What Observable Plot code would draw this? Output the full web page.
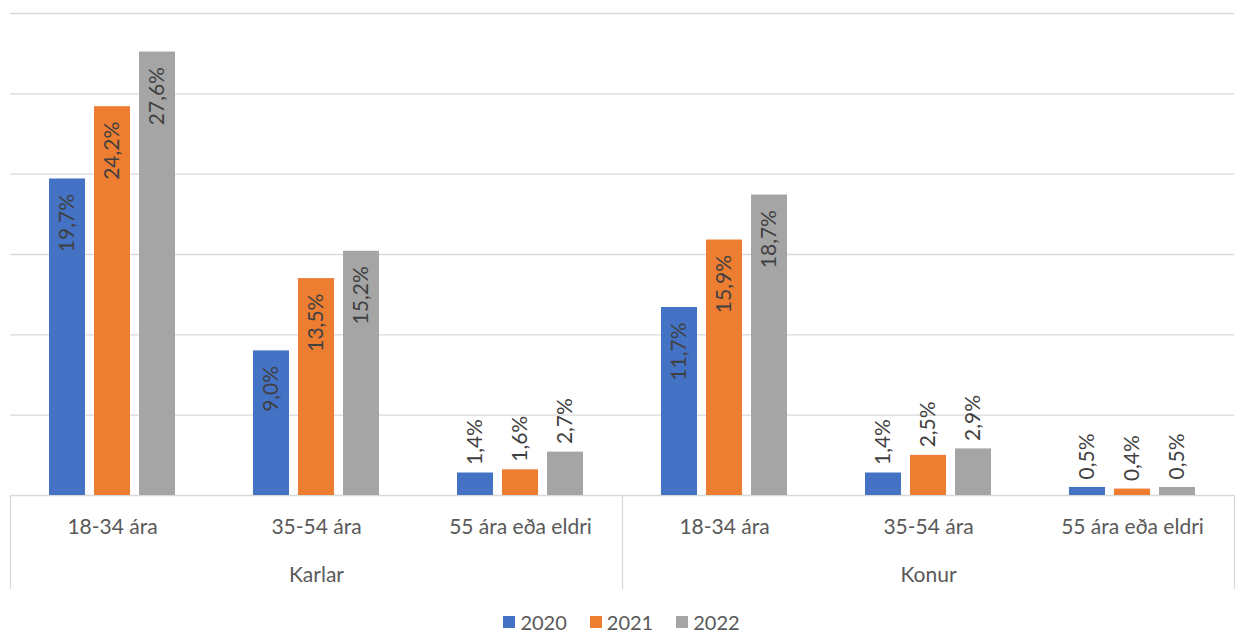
<!DOCTYPE html>
<html>
<head>
<meta charset="utf-8">
<script src="https://cdn.jsdelivr.net/npm/d3@7"></script>
<script src="https://cdn.jsdelivr.net/npm/@observablehq/plot@0.6"></script>
<style>
  html, body { margin: 0; padding: 0; background: #fff; }
  #chart { width: 1243px; }
  .legend { display: flex; justify-content: center; align-items: center; gap: 23px;
    font-family: Lato, sans-serif; font-size: 20px; line-height: 22px; color: #595959;
    height: 22px; padding-top: 11px; }
  .legend .item { display: flex; align-items: center; gap: 5px; }
  .legend .sw { width: 12px; height: 12px; display: inline-block; }
</style>
</head>
<body>
<div id="chart"></div>
<script>
// ---- data ----
const groups = ["Karlar", "Konur"];
const ages = ["18-34 ára", "35-54 ára", "55 ára eða eldri"];
const years = ["2020", "2021", "2022"];
const colors = ["#4472C4", "#ED7D31", "#A5A5A5"];
const karlar2020 = [19.7, 9.0, 1.4];
const karlar2021 = [24.2, 13.5, 1.6];
const karlar2022 = [27.6, 15.2, 2.7];
const konur2020 = [11.7, 1.4, 0.5];
const konur2021 = [15.9, 2.5, 0.4];
const konur2022 = [18.7, 2.9, 0.5];
const yTicks = [0, 5, 10, 15, 20, 25, 30];

// ---- build table ----
const series = {
  Karlar: [karlar2020, karlar2021, karlar2022],
  Konur: [konur2020, konur2021, konur2022]
};
const keyOf = (g, a) => g + "|" + a;
const cats = [];
const rows = [];
for (const g of groups) {
  ages.forEach((a, ai) => {
    cats.push({key: keyOf(g, a), group: g, age: a});
    years.forEach((y, yi) => {
      rows.push({key: keyOf(g, a), group: g, age: a, year: y, value: series[g][yi][ai]});
    });
  });
}
const fxDomain = cats.map(d => d.key);
const fmt = v => v.toFixed(1).replace(".", ",") + "%";
const inside = d => d.value >= 5;

const W = 1243, H = 600;
const mTop = 13, baseline = 495, mBottom = 12;
const grid = "#d9d9d9";
const font = "Lato, sans-serif";

const groupLabels = groups.map(g => ({key: keyOf(g, ages[1]), group: g}));

const chart = Plot.plot({
  width: W,
  height: H,
  marginLeft: 8,
  marginRight: 8,
  marginTop: mTop,
  marginBottom: mBottom,
  style: {fontFamily: font, fontSize: "21px", background: "#fff"},
  fx: {domain: fxDomain, padding: 0, axis: null},
  x: {domain: years, paddingInner: 0.21, paddingOuter: 0.85, axis: null},
  y: {domain: [0, 30], range: [baseline, mTop], axis: null},
  color: {domain: years, range: colors},
  marks: [
    Plot.ruleY(yTicks, {y: d => d, stroke: grid, strokeWidth: 1.3}),
    Plot.barY(rows, {fx: "key", x: "year", y: "value", fill: "year"}),
    Plot.text(rows.filter(inside), {
      fx: "key", x: "year", y: "value", text: d => fmt(d.value),
      rotate: -90, textAnchor: "end", dy: 15, fill: "#404040", fontSize: 21
    }),
    Plot.text(rows.filter(d => !inside(d)), {
      fx: "key", x: "year", y: "value", text: d => fmt(d.value),
      rotate: -90, textAnchor: "start", dy: -8, fill: "#404040", fontSize: 21
    }),
    Plot.text(cats, {fx: "key", text: "age", frameAnchor: "bottom", dy: -55, fill: "#595959", fontSize: 21}),
    Plot.text(groupLabels, {fx: "key", text: "group", frameAnchor: "bottom", dy: -7, fill: "#595959", fontSize: 21}),
    Plot.frame({anchor: "left", fx: () => keyOf(groups[0], ages[0]), insetTop: baseline - mTop, stroke: grid, strokeWidth: 1.3}),
    Plot.frame({anchor: "left", fx: () => keyOf(groups[1], ages[0]), insetTop: baseline - mTop, stroke: grid, strokeWidth: 1.3}),
    Plot.frame({anchor: "right", fx: () => keyOf(groups[1], ages[2]), insetTop: baseline - mTop, stroke: grid, strokeWidth: 1.3})
  ]
});
document.getElementById("chart").appendChild(chart);

// legend
const legend = document.createElement("div");
legend.className = "legend";
years.forEach((y, i) => {
  const item = document.createElement("div");
  item.className = "item";
  const sw = document.createElement("span");
  sw.className = "sw";
  sw.style.background = colors[i];
  const t = document.createElement("span");
  t.textContent = y;
  item.appendChild(sw);
  item.appendChild(t);
  legend.appendChild(item);
});
document.getElementById("chart").appendChild(legend);
</script>
</body>
</html>
